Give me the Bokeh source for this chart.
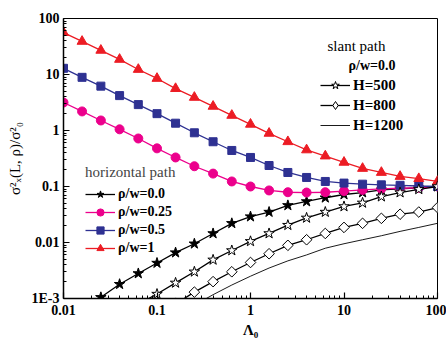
import math
from bokeh.plotting import figure
from bokeh.models import (Legend, LegendItem, Label, FixedTicker, ColumnDataSource)
from bokeh.embed import file_html
from bokeh.resources import INLINE

# ---- data ----
LAMBDA0 = [0.01, 0.0158, 0.0251, 0.0398, 0.0631, 0.1, 0.158, 0.251, 0.398, 0.631,
           1.0, 1.58, 2.51, 3.98, 6.31, 10.0, 15.8, 25.1, 39.8, 63.1, 100.0]
NAN = float("nan")

# horizontal path
HOR_RHO_0 = [NAN, 0.0007, 0.00105, 0.0018, 0.0028, 0.0043, 0.0066, 0.0095, 0.0145, 0.022,
             0.029, 0.035, 0.046, 0.054, 0.063, 0.072, 0.078, 0.087, 0.091, 0.095, 0.1]
HOR_RHO_025 = [3.16, 2.19, 1.51, 1.05, 0.72, 0.48, 0.33, 0.23, 0.17, 0.123,
               0.1, 0.085, 0.079, 0.078, 0.079, 0.083, 0.087, 0.091, 0.093, 0.095, 0.1]
HOR_RHO_05 = [12.9, 8.9, 6.2, 4.2, 2.9, 2.0, 1.35, 0.91, 0.63, 0.44,
              0.33, 0.237, 0.178, 0.145, 0.123, 0.115, 0.11, 0.107, 0.105, 0.102, 0.1]
HOR_RHO_1 = [56.0, 39.0, 27.0, 18.6, 12.3, 8.5, 5.6, 3.9, 2.7, 1.86,
             1.29, 0.89, 0.63, 0.45, 0.35, 0.27, 0.21, 0.178, 0.151, 0.138, 0.123]

# slant path, rho/w = 0.0
SLANT_H500 = [NAN, NAN, NAN, NAN, 0.0008, 0.0012, 0.0019, 0.003, 0.0049, 0.0072,
              0.0105, 0.0145, 0.0204, 0.0275, 0.035, 0.044, 0.051, 0.066, 0.078, 0.089, 0.1]
SLANT_H800 = [NAN, NAN, NAN, NAN, NAN, NAN, 0.0008, 0.0013, 0.002, 0.003,
              0.0044, 0.0063, 0.0089, 0.0112, 0.0145, 0.0186, 0.022, 0.027, 0.032, 0.035, 0.042]
SLANT_H1200 = [NAN, NAN, NAN, NAN, NAN, NAN, NAN, 0.00076, 0.00117, 0.00174,
               0.0025, 0.0035, 0.0047, 0.006, 0.0079, 0.0095, 0.0112, 0.0132, 0.0158, 0.0186, 0.022]

X_TICKS = [0.01, 0.1, 1, 10, 100]
X_LABELS = ["0.01", "0.1", "1", "10", "100"]
Y_TICKS = [0.001, 0.01, 0.1, 1, 10, 100]
Y_LABELS = ["1E-3", "0.01", "0.1", "1", "10", "100"]

RED = "#ec1c24"
BLUE = "#2e3192"
MAGENTA = "#ec008c"
BLACK = "#000000"
SERIF = "Liberation Serif"

p = figure(width=446, height=341, x_axis_type="log", y_axis_type="log",
           x_range=(0.01, 100), y_range=(0.001, 100),
           output_backend="svg", toolbar_location=None,
           min_border_left=63, min_border_right=9, min_border_top=18, min_border_bottom=43)
p.grid.visible = False
p.outline_line_color = "black"
p.outline_line_width = 1
p.background_fill_color = "white"
p.border_fill_color = "white"

def minors(lo, hi):
    out = []
    for e in range(lo, hi):
        for m in range(2, 10):
            out.append(m * 10.0 ** e)
    return out

p.xaxis.ticker = FixedTicker(ticks=X_TICKS, minor_ticks=minors(-2, 2))
p.yaxis.ticker = FixedTicker(ticks=Y_TICKS, minor_ticks=minors(-3, 2))
p.xaxis.major_label_overrides = {t: l for t, l in zip(X_TICKS, X_LABELS)}
p.yaxis.major_label_overrides = {t: l for t, l in zip(Y_TICKS, Y_LABELS)}

for ax in (p.xaxis, p.yaxis):
    ax.major_tick_in = 6
    ax.major_tick_out = 0
    ax.minor_tick_in = 3
    ax.minor_tick_out = 0
    ax.axis_line_width = 1.5
    ax.major_tick_line_width = 1.2
    ax.major_label_text_font = SERIF
    ax.major_label_text_font_style = "bold"
    ax.major_label_text_font_size = "14px"
    ax.major_label_text_color = "black"
    ax.axis_label_text_font = SERIF
    ax.axis_label_text_font_size = "15px"
    ax.axis_label_text_color = "black"

p.xaxis.major_label_standoff = 6
p.yaxis.major_label_standoff = 4
p.xaxis.axis_label = "Λ₀"
p.xaxis.axis_label_text_font_style = "bold"
p.xaxis.axis_label_standoff = 4
p.yaxis.axis_label = "σ²ₓ(L, ρ)/σ²₀"
p.yaxis.axis_label_text_font_style = "normal"
p.yaxis.axis_label_standoff = 6

def series(ys, color, marker, size, fill, lw=1.3):
    ln = p.line(LAMBDA0, ys, line_color=color, line_width=lw)
    rs = [ln]
    if marker is not None:
        mk = p.scatter(LAMBDA0, ys, marker=marker, size=size,
                       line_color=color, fill_color=fill, line_width=1)
        rs.append(mk)
    return rs

r0 = series(HOR_RHO_0, BLACK, "star", 11, BLACK)
r025 = series(HOR_RHO_025, MAGENTA, "circle", 9, MAGENTA)
r05 = series(HOR_RHO_05, BLUE, "square", 8, BLUE)
r1 = series(HOR_RHO_1, RED, "triangle", 10, RED)
s500 = series(SLANT_H500, BLACK, "star", 11, "white")

s800_line = p.line(LAMBDA0, SLANT_H800, line_color=BLACK, line_width=1.3)
s800_mk = p.scatter(LAMBDA0, SLANT_H800, marker="square", angle=math.pi / 4, size=7.5,
                    line_color=BLACK, fill_color="white", line_width=1)
# legend proxy (rotated squares are not rotated in legends): its only point is the
# first H=800 value, which lies below the y range and is clipped away by the frame
i_first = next(i for i, v in enumerate(SLANT_H800) if v == v)
proxy_src = ColumnDataSource(data=dict(x=[LAMBDA0[i_first]], y=[SLANT_H800[i_first]]))
s800_leg = p.scatter("x", "y", source=proxy_src, marker="diamond", size=12,
                     line_color=BLACK, fill_color="white", line_width=1)
s1200 = series(SLANT_H1200, BLACK, None, 0, None, lw=0.9)

leg1 = Legend(items=[LegendItem(label="ρ/w=0.0", renderers=r0),
                     LegendItem(label="ρ/w=0.25", renderers=r025),
                     LegendItem(label="ρ/w=0.5", renderers=r05),
                     LegendItem(label="ρ/w=1", renderers=r1)],
              title="horizontal path", location=(22, 41))
leg2 = Legend(items=[LegendItem(label="H=500", renderers=s500),
                     LegendItem(label="H=800", renderers=[s800_line, s800_leg]),
                     LegendItem(label="H=1200", renderers=s1200)],
              location=(257, 163))
for lg in (leg1, leg2):
    lg.background_fill_alpha = 0
    lg.border_line_alpha = 0
    lg.padding = 0
    lg.margin = 0
    lg.spacing = 0
    lg.glyph_width = 30
    lg.glyph_height = 18
    lg.label_height = 18
    lg.label_standoff = 3
    lg.label_text_font = SERIF
    lg.label_text_font_style = "bold"
    lg.label_text_font_size = "14px"
    lg.label_text_color = "black"
    lg.title_text_font = SERIF
    lg.title_text_font_style = "normal"
    lg.title_text_font_size = "15px"
    lg.title_standoff = 4
leg2.glyph_height = 20
leg2.label_height = 20
leg2.label_text_font_size = "15px"
p.add_layout(leg1, "center")
p.add_layout(leg2, "center")

p.add_layout(Label(x=264, y=253, x_units="screen", y_units="screen", text="slant path",
                   text_font=SERIF, text_font_size="15px", text_baseline="middle",
                   text_color="black"))
p.add_layout(Label(x=285, y=233, x_units="screen", y_units="screen", text="ρ/w=0.0",
                   text_font=SERIF, text_font_size="14px", text_font_style="bold",
                   text_baseline="middle", text_color="black"))

open("out.html", "w").write(file_html(p, INLINE))
